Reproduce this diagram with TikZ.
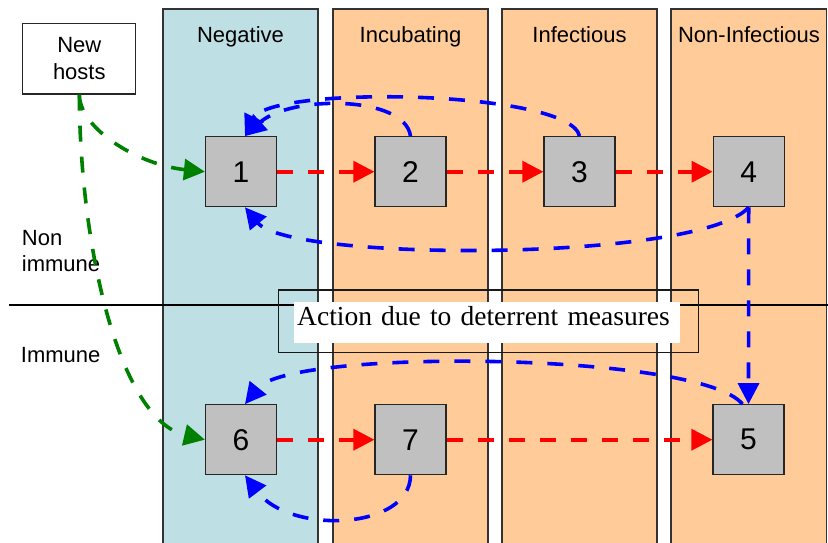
\documentclass[tikz,border=0pt]{standalone}
\usepackage{fontspec}
\newfontfamily\labelfont{Liberation Sans}
\newfontfamily\notefont{Liberation Serif}
\usetikzlibrary{arrows.meta}
\definecolor{negblue}{RGB}{190,224,228}
\definecolor{stageorange}{RGB}{255,204,153}
\definecolor{boxgray}{RGB}{192,192,192}
\definecolor{flowred}{RGB}{255,0,0}
\definecolor{flowblue}{RGB}{0,0,255}
\definecolor{flowgreen}{RGB}{0,128,0}

\begin{document}
\begin{tikzpicture}[x=1pt,y=-1pt,
  colframe/.style={draw=black!80,line width=1.2pt},
  statebox/.style={draw=black!85,line width=1.2pt,fill=boxgray,minimum width=71pt,
    minimum height=70pt,inner sep=0pt,font=\labelfont\fontsize{30}{30}\selectfont},
  heading/.style={anchor=base,inner sep=0pt,font=\labelfont\fontsize{22}{26}\selectfont},
  sidelabel/.style={anchor=base west,inner sep=0pt,font=\labelfont\fontsize{22}{26}\selectfont},
  flow/.style={line width=3.6pt,dash pattern=on 16pt off 15pt,
    -{Triangle[length=21pt,width=21pt]}},
  progress/.style={flow,flowred},
  recovery/.style={flow,flowblue},
  entry/.style={flow,flowgreen}
]
\useasboundingbox (0,0) rectangle (828,542);

% stage columns
\fill[negblue] (163,9) rectangle (318,560);
\draw[colframe] (163,560) -- (163,9) -- (318,9) -- (318,560);
\foreach \xl/\xr in {333/488, 502/657, 671/826.5}{
  \fill[stageorange] (\xl,9) rectangle (\xr,560);
  \draw[colframe] (\xl,560) -- (\xl,9) -- (\xr,9) -- (\xr,560);
}

% column headings
\node[heading] (hneg) at (240.5,42) {Negative};
\node[heading] (hinc) at (410.5,42) {Incubating};
\node[heading] (hinf) at (579.5,42) {Infectious};
\node[heading] (hnon) at (749,42) {Non-Infectious};

% divider between non-immune and immune hosts
\draw[line width=1.2pt] (9,305) -- (828,305);

% row labels
\node[sidelabel] (lnon) at (21.7,245.7) {Non};
\node[sidelabel] (limm) at (21.7,271.7) {immune};
\node[sidelabel] (limmune) at (20.7,362.7) {Immune};

% deterrent measures note
\node[draw=black!90,line width=1.2pt,minimum width=420pt,minimum height=62.7pt,inner sep=0pt]
  (frame) at (488.3,321.35) {};
\node[anchor=base west,fill=white,inner xsep=3pt,inner ysep=0pt,text width=380pt,align=left,
  text height=23.3pt,text depth=18.3pt,font=\notefont\fontsize{27.5}{30}\selectfont]
  (note) at (294,325) {Action due to deterrent measures};

% new hosts source
\node[draw=black!85,line width=1.2pt,fill=white,minimum width=113pt,minimum height=70.7pt,
  inner sep=0pt,align=center,font=\labelfont\fontsize{22}{26.7}\selectfont]
  (new) at (79.3,58.7) {New\\hosts};

% host states
\node[statebox] (b1) at (241,171.7) {1};
\node[statebox] (b2) at (410.5,171.7) {2};
\node[statebox] (b3) at (579.5,171.7) {3};
\node[statebox] (b4) at (748.7,171.7) {4};
\node[statebox] (b6) at (241,439.7) {6};
\node[statebox] (b7) at (410.5,439.7) {7};
\node[statebox] (b5) at (748.5,439.7) {5};

% infection progress
\draw[progress] (b1.east) -- (b2.west);
\draw[progress] (b2.east) -- (b3.west);
\draw[progress] (b3.east) -- (b4.west);
\draw[progress] (b6.east) -- (b7.west);
\draw[progress] (b7.east) -- (b5.west);

% returns and transitions
\draw[recovery] (b3.north) .. controls (570,90) and (270,85) .. ([xshift=4pt]b1.north);
\draw[recovery] (b2.north) .. controls (405,95) and (290,95) .. ([xshift=4pt]b1.north);
\draw[recovery] (b4.south) .. controls (700,262) and (290,262) .. ([xshift=4pt]b1.south);
\draw[recovery] (b4.south) -- (b5.north);
\draw[recovery] ([xshift=-6pt]b5.north) .. controls (700,352) and (290,348) .. ([xshift=4pt]b6.north);
\draw[recovery] (b7.south) .. controls (410,530) and (290,535) .. ([xshift=4pt]b6.south);

% arrivals of new hosts
\draw[entry] (new.south) .. controls (80,130) and (140,165) .. (b1.west);
\draw[entry] (new.south) .. controls (80,250) and (120,420) .. (b6.west);
\end{tikzpicture}
\end{document}
